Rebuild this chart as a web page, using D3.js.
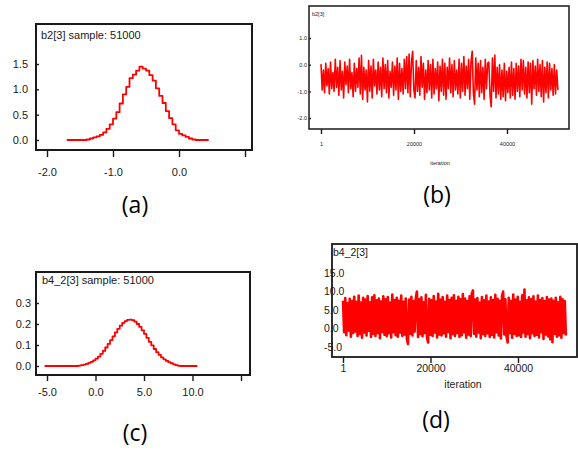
<!DOCTYPE html>
<html>
<head>
<meta charset="utf-8">
<script src="https://cdn.jsdelivr.net/npm/d3@7"></script>
<style>
  body { margin: 0; background: #fff; }
  svg { display: block; }
</style>
</head>
<body>
<svg id="chart"></svg>
<script>
// ---- data ----
// (a) density of b2[3]
var densAx = [-1.70, -1.65, -1.60, -1.55, -1.50, -1.45, -1.40, -1.35, -1.30, -1.25, -1.20,
  -1.15, -1.10, -1.05, -1.00, -0.95, -0.90, -0.85, -0.80, -0.75, -0.70, -0.65, -0.60,
  -0.55, -0.50, -0.45, -0.40, -0.35, -0.30, -0.25, -0.20, -0.15, -0.10, -0.05, 0.00,
  0.05, 0.10, 0.15, 0.20, 0.25, 0.30, 0.35, 0.40, 0.45];
var densAy = [0, 0, 0, 0, 0, 0, 0.01, 0.03, 0.05, 0.07, 0.10,
  0.15, 0.22, 0.31, 0.42, 0.55, 0.72, 0.90, 1.05, 1.22, 1.29, 1.37, 1.45,
  1.41, 1.37, 1.28, 1.17, 1.02, 0.87, 0.73, 0.57, 0.43, 0.31, 0.19, 0.12,
  0.09, 0.06, 0.03, 0.01, 0, 0, 0, 0, 0];

// (c) density of b4_2[3]
var densCx = [-5.25, -2.00, -1.75, -1.50, -1.25, -1.00, -0.75, -0.50, -0.25, 0.00, 0.25,
  0.50, 0.75, 1.00, 1.25, 1.50, 1.75, 2.00, 2.25, 2.50, 2.75, 3.00, 3.25, 3.50, 3.75,
  4.00, 4.25, 4.50, 4.75, 5.00, 5.25, 5.50, 5.75, 6.00, 6.25, 6.50, 6.75, 7.00, 7.25,
  7.50, 7.75, 8.00, 8.25, 8.50, 8.75, 10.50];
var densCy = [0, 0, 0.002, 0.004, 0.007, 0.010, 0.015, 0.020, 0.027, 0.035, 0.045,
  0.058, 0.072, 0.088, 0.105, 0.123, 0.141, 0.160, 0.177, 0.192, 0.205, 0.214, 0.220, 0.221, 0.218,
  0.211, 0.200, 0.186, 0.170, 0.153, 0.134, 0.115, 0.098, 0.081, 0.066, 0.053, 0.041, 0.032, 0.024,
  0.018, 0.013, 0.008, 0.004, 0.001, 0, 0];

// (b) trace of b2[3], one value every 256 iterations
var traceB = [
  0.02, -0.95, -0.20, -1.05, 0.05, -0.80, -0.15, -1.10, 0.10, -0.90,
  -0.30, -1.00, 0.20, -0.85, -0.10, -1.15, 0.15, -0.95, -0.25, -1.25,
  0.10, -0.75, -0.05, -1.05, 0.20, -0.90, -0.30, -1.20, 0.05, -1.00,
  -0.15, -0.85, 0.25, -1.10, 0.35, -1.30, -0.10, -0.95, -0.20, -1.40,
  0.15, -1.00, -0.05, -1.25, 0.20, -0.80, -0.20, -1.10, 0.10, -0.95,
  -0.10, -1.20, 0.25, -0.90, 0.00, -1.05, 0.15, -1.25, -0.25, -0.85,
  0.10, -1.15, -0.05, -0.95, 0.25, -1.30, 0.05, -1.00, -0.15, -1.10,
  0.20, -0.90, 0.30, -1.05, 0.40, -1.20, 0.10, 0.50, -0.95, -1.25,
  0.15, -1.00, -0.10, -1.15, 0.30, -0.85, 0.05, -1.30, -0.20, -1.05,
  0.15, -0.95, 0.00, -1.25, 0.20, -1.10, -0.15, -0.90, 0.10, -1.35,
  -0.05, -1.00, 0.20, -1.15, 0.05, -1.30, -0.10, -0.90, 0.25, -1.05,
  0.00, -1.20, 0.15, -0.95, -0.20, -1.10, 0.20, -1.25, 0.05, -1.00,
  0.30, -1.15, -0.05, -0.90, 0.20, -1.30, 0.10, 0.50, -1.05, -1.48,
  0.25, -0.95, 0.05, -1.20, 0.15, -1.05, -0.10, -1.30, 0.20, -0.90,
  0.05, 0.10, -1.15, -1.58, 0.25, -1.00, 0.36, -1.25, -0.10, -1.10,
  0.00, -1.30, -0.20, -1.20, 0.05, -1.35, -0.25, -1.05, -0.10, -1.25,
  0.10, -1.15, -0.15, -1.30, 0.05, -1.00, -0.05, -1.20, 0.20, -0.95,
  0.15, -1.10, -0.10, -1.25, 0.10, -1.05, 0.05, -1.48, 0.15, -0.90,
  -0.05, -1.15, 0.20, -1.00, 0.00, -1.20, 0.15, -1.40, -0.10, -1.05,
  0.10, -1.25, 0.05, -0.95, -0.15, -1.15, 0.00, -1.10, -0.20, -0.95];

// (d) trace of b4_2[3], one value every 256 iterations
var traceD = [
  7.5, -1.0, 8.2, -1.8, 6.9, -0.5, 8.0, -2.2, 7.4, -1.2,
  8.6, -0.8, 7.2, -2.0, 8.9, -1.5, 7.0, -2.5, 8.3, -1.1,
  7.8, -1.9, 8.8, -0.6, 7.1, -2.3, 8.4, -1.4, 9.0, -2.0,
  7.6, -1.2, 8.1, -2.6, 7.3, -0.9, 8.7, -1.7, 7.9, -2.1,
  8.5, -1.3, 7.0, -2.4, 9.2, -1.0, 7.7, -1.8, 8.3, -2.2,
  7.5, -1.1, 8.9, -2.0, 7.2, -1.6, 8.1, -2.7, -4.2, 7.8,
  -1.4, 8.6, -1.9, 7.4, -0.8, 8.2, 10.0, -2.3, 7.9, -1.5,
  8.4, -2.1, 7.1, -1.2, 9.1, -2.5, -3.8, 8.0, -1.7, 7.6,
  -2.0, 8.8, -1.1, 7.3, -2.4, 9.4, -1.6, 7.8, -1.9, 8.5,
  -1.3, 7.2, -2.2, 8.9, -0.9, 7.7, -2.6, 8.3, -1.5, 9.0,
  -2.0, 7.5, -1.2, 8.6, -2.3, 7.9, -1.8, 9.3, -1.0, 8.1,
  -2.5, 7.4, -1.6, 8.7, -2.1, 9.5, 10.3, -1.4, 7.8, -2.2,
  8.2, -1.1, 7.0, -2.6, 8.5, -1.5, 7.6, -2.0, 8.9, -1.3,
  7.3, -2.3, 8.4, -1.7, 7.7, -2.4, 9.1, -1.0, 8.0, -1.9,
  7.5, -2.7, 8.8, 10.0, -1.6, 7.9, -2.1, -3.8, 8.3, -1.2,
  7.4, -2.5, 9.2, -1.4, 7.8, -2.0, 8.6, -1.8, 7.2, -2.3,
  9.0, -1.1, 10.5, -2.2, 7.6, -1.5, 8.4, -2.6, 7.9, -1.3,
  8.7, -2.0, 7.3, -1.7, 8.9, -2.4, 7.7, -1.0, 8.2, -2.8,
  7.4, -1.6, 8.5, -2.1, 7.8, -2.9, 8.1, -3.7, 7.5, -1.4,
  8.3, -2.2, 7.1, -1.8, 8.6, -2.5, 7.9, -1.2, 7.4, -1.9];
var thinStep = 256;

// tick values and labels
var xTicksA = [-2, -1, 0, 1], xLabelsA = ['-2.0', '-1.0', '0.0', ''];
var yTicksA = [0, 0.5, 1, 1.5], yLabelsA = ['0.0', '0.5', '1.0', '1.5'];
var xTicksC = [-5, 0, 5, 10, 15], xLabelsC = ['-5.0', '0.0', '5.0', '10.0', ''];
var yTicksC = [0, 0.1, 0.2, 0.3], yLabelsC = ['0.0', '0.1', '0.2', '0.3'];
var xTicksB = [1, 20000, 40000], xLabelsB = ['1', '20000', '40000'];
var yTicksB = [-2, -1, 0, 1], yLabelsB = ['-2.0', '-1.0', '0.0', '1.0'];
var xTicksD = [1, 20000, 40000], xLabelsD = ['1', '20000', '40000'];
var yTicksD = [-5, 0, 5, 10, 15], yLabelsD = ['-5.0', '0.0', '5.0', '10.0', '15.0'];

var svg = d3.select('#chart').attr('width', 578).attr('height', 453);
var FONT = 'Liberation Sans, Arial, sans-serif';

function label(ticks, labels) {
  return function(d) { return labels[ticks.indexOf(d)]; };
}

function frame(g, f, w) {
  g.append('rect')
    .attr('x', f[0]).attr('y', f[1])
    .attr('width', f[2] - f[0]).attr('height', f[3] - f[1])
    .attr('fill', 'none').attr('stroke', '#1a1a1a').attr('stroke-width', w);
}

function styleAxis(a, size) {
  a.select('.domain').remove();
  a.selectAll('line').attr('stroke', '#1a1a1a').attr('stroke-width', 1.4);
  a.selectAll('text').attr('fill', '#1a1a1a').attr('font-family', FONT).attr('font-size', size + 'px');
}

// p: panel settings
function panel(p) {
  var g = svg.append('g');
  var x = d3.scaleLinear().domain(p.xDomain).range(p.xRange);
  var y = d3.scaleLinear().domain(p.yDomain).range(p.yRange);

  var line = d3.line().x(d => x(d[0])).y(d => y(d[1]));
  if (p.step) line.curve(d3.curveStepAfter);
  g.append('path').datum(p.points)
    .attr('d', line)
    .attr('fill', 'none')
    .attr('stroke', '#ff0000')
    .attr('stroke-linejoin', 'round')
    .attr('stroke-width', p.lineWidth);

  frame(g, p.frame, p.frameWidth);

  var xa = g.append('g')
    .attr('transform', 'translate(0,' + p.frame[3] + ')')
    .call(d3.axisBottom(x).tickValues(p.xTicks).tickFormat(label(p.xTicks, p.xLabels))
      .tickSize(p.xTickLen).tickPadding(p.xPad));
  styleAxis(xa, p.font);

  var ya = g.append('g')
    .attr('transform', 'translate(' + p.frame[0] + ',0)')
    .call(d3.axisLeft(y).tickValues(p.yTicks).tickFormat(label(p.yTicks, p.yLabels))
      .tickSize(p.yTickLen).tickPadding(p.yPad));
  styleAxis(ya, p.font);
  if (p.yAnchorStart) ya.selectAll('text').attr('text-anchor', 'start').attr('x', p.yAnchorStart);

  g.append('text')
    .attr('x', p.titlePos[0]).attr('y', p.titlePos[1])
    .attr('font-family', FONT).attr('font-size', p.font + 'px').attr('fill', '#1a1a1a')
    .text(p.title);

  if (p.xTitle) {
    g.append('text')
      .attr('x', p.xTitlePos[0]).attr('y', p.xTitlePos[1])
      .attr('text-anchor', 'middle')
      .attr('font-family', FONT).attr('font-size', p.font + 'px').attr('fill', '#1a1a1a')
      .text(p.xTitle);
  }

  svg.append('text')
    .attr('x', p.capPos[0]).attr('y', p.capPos[1])
    .attr('text-anchor', 'middle')
    .attr('font-family', 'Open Sans, Noto Sans, sans-serif')
    .attr('font-size', '23px').attr('fill', '#000')
    .text(p.caption);
}

// (a)
panel({
  points: densAx.map((v, i) => [v, densAy[i]]), step: true, lineWidth: 1.8,
  xDomain: [-2, 1], xRange: [47, 245], yDomain: [0, 1.5], yRange: [140, 64],
  frame: [36, 24, 252, 150], frameWidth: 2,
  xTicks: xTicksA, xLabels: xLabelsA, xTickLen: 7, xPad: 11,
  yTicks: yTicksA, yLabels: yLabelsA, yTickLen: -3, yPad: 8,
  font: 11, title: 'b2[3] sample: 51000', titlePos: [41, 39],
  caption: '(a)', capPos: [135, 213]
});

// (c)
panel({
  points: densCx.map((v, i) => [v, densCy[i]]), step: true, lineWidth: 1.8,
  xDomain: [-5, 15], xRange: [47, 241], yDomain: [0, 0.3], yRange: [366, 303],
  frame: [36, 272, 250, 375], frameWidth: 2,
  xTicks: xTicksC, xLabels: xLabelsC, xTickLen: 6, xPad: 7,
  yTicks: yTicksC, yLabels: yLabelsC, yTickLen: -3, yPad: 5,
  font: 11, title: 'b4_2[3] sample: 51000', titlePos: [42, 284],
  caption: '(c)', capPos: [135, 441]
});

// (b)
panel({
  points: traceB.map((v, i) => [1 + i * thinStep, v]), step: false, lineWidth: 1.6,
  xDomain: [1, 40000], xRange: [321, 507], yDomain: [-2, 1], yRange: [118, 38],
  frame: [309, 6, 569, 129], frameWidth: 1.5,
  xTicks: xTicksB, xLabels: xLabelsB, xTickLen: 5, xPad: 8,
  yTicks: yTicksB, yLabels: yLabelsB, yTickLen: -2, yPad: 2,
  font: 5.5, title: 'b2[3]', titlePos: [312, 16],
  xTitle: 'iteration', xTitlePos: [440, 165],
  caption: '(b)', capPos: [437, 203]
});

// (d)
panel({
  points: traceD.map((v, i) => [1 + i * thinStep, v]), step: false, lineWidth: 2.6,
  xDomain: [1, 40000], xRange: [343, 518], yDomain: [-5, 15], yRange: [347, 273],
  frame: [332, 244, 577, 357], frameWidth: 1.8,
  xTicks: xTicksD, xLabels: xLabelsD, xTickLen: 6, xPad: 1.5,
  yTicks: yTicksD, yLabels: yLabelsD, yTickLen: 0, yPad: 0, yAnchorStart: -8,
  font: 10.5, title: 'b4_2[3]', titlePos: [333, 256],
  xTitle: 'iteration', xTitlePos: [463, 388],
  caption: '(d)', capPos: [436, 428]
});
</script>
</body>
</html>
